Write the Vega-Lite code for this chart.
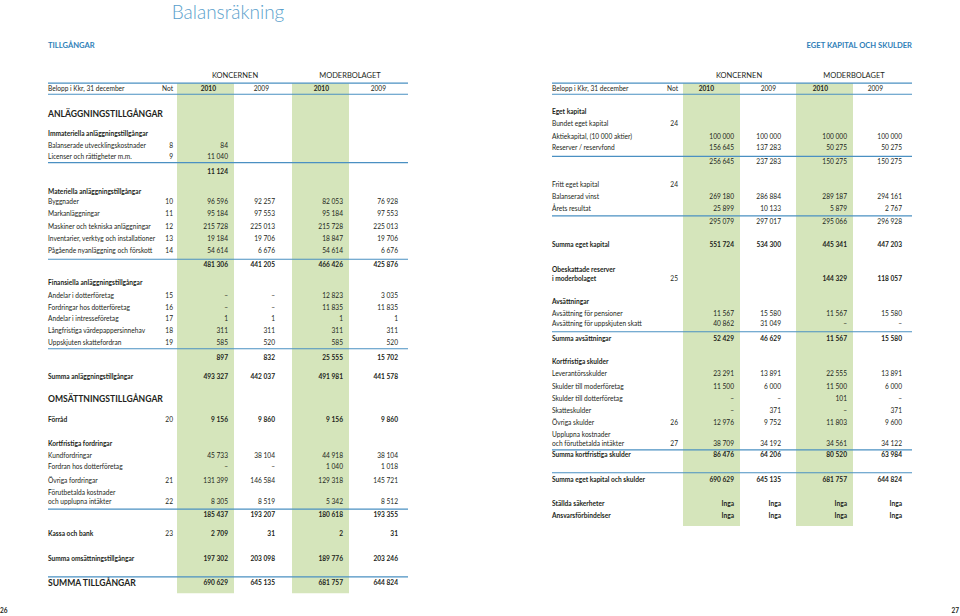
{
"$schema": "https://vega.github.io/schema/vega-lite/v6.json",
"width": 960, "height": 616, "padding": 0,
"autosize": {"type": "fit", "contains": "padding"},
"background": "white",
"config": {"view": {"stroke": null}, "text": {"font": "Lato", "color": "#231f20", "baseline": "middle"}},
"datasets": {
"bands": [
{"c": 2, "top": -0.5, "bottom": 43.1}, {"c": 4, "top": -0.5, "bottom": 43.1},
{"c": 12, "top": -0.5, "bottom": 37.35}, {"c": 14, "top": -0.5, "bottom": 37.35}
],
"lines": [
{"c0": 0, "c1": 6, "row": -0.5}, {"c0": 0, "c1": 6, "row": 0.45}, {"c0": 0, "c1": 6, "row": 6.3}, {"c0": 0, "c1": 6, "row": 14.55},
{"c0": 0, "c1": 6, "row": 22.2}, {"c0": 0, "c1": 6, "row": 35.9}, {"c0": 0, "c1": 6, "row": 41.7},
{"c0": 10, "c1": 16, "row": -0.5}, {"c0": 10, "c1": 16, "row": 0.45}, {"c0": 10, "c1": 16, "row": 5.75}, {"c0": 10, "c1": 16, "row": 10.85},
{"c0": 10, "c1": 16, "row": 20.75}, {"c0": 10, "c1": 16, "row": 30.85}, {"c0": 10, "c1": 16, "row": 32.8}
],
"parts": [
{"side": "L", "c": 0, "row": -3.7, "text": "TILLGÅNGAR"},
{"side": "R", "c": 16, "row": -3.7, "text": "EGET KAPITAL OCH SKULDER"}
],
"pages": [
{"side": "L", "c": -1, "row": 44.6, "text": "26"},
{"side": "R", "c": 17, "row": 44.6, "text": "27"}
],
"rows": [
{"side": "L", "row": -1.1, "kind": "group", "k10": "KONCERNEN", "m10": "MODERBOLAGET"},
{"side": "L", "row": 0, "kind": "colhead", "label": "Belopp i Kkr, 31 december", "note": "Not", "k10": "2010", "k09": "2009", "m10": "2010", "m09": "2009"},
{"side": "L", "row": 2.15, "kind": "section", "label": "ANLÄGGNINGSTILLGÅNGAR"},
{"side": "L", "row": 3.85, "kind": "head", "label": "Immateriella anläggningstillgångar"},
{"side": "L", "row": 4.85, "kind": "item", "label": "Balanserade utvecklingskostnader", "note": "8", "k10": "84"},
{"side": "L", "row": 5.8, "kind": "item", "label": "Licenser och rättigheter m.m.", "note": "9", "k10": "11 040"},
{"side": "L", "row": 7.12, "kind": "total", "k10": "11 124"},
{"side": "L", "row": 8.8, "kind": "head", "label": "Materiella anläggningstillgångar"},
{"side": "L", "row": 9.65, "kind": "item", "label": "Byggnader", "note": "10", "k10": "96 596", "k09": "92 257", "m10": "82 053", "m09": "76 928"},
{"side": "L", "row": 10.7, "kind": "item", "label": "Markanläggningar", "note": "11", "k10": "95 184", "k09": "97 553", "m10": "95 184", "m09": "97 553"},
{"side": "L", "row": 11.8, "kind": "item", "label": "Maskiner och tekniska anläggningar", "note": "12", "k10": "215 728", "k09": "225 013", "m10": "215 728", "m09": "225 013"},
{"side": "L", "row": 12.8, "kind": "item", "label": "Inventarier, verktyg och installationer", "note": "13", "k10": "19 184", "k09": "19 706", "m10": "18 847", "m09": "19 706"},
{"side": "L", "row": 13.85, "kind": "item", "label": "Pågående nyanläggning och förskott", "note": "14", "k10": "54 614", "k09": "6 676", "m10": "54 614", "m09": "6 676"},
{"side": "L", "row": 15.04, "kind": "total", "k10": "481 306", "k09": "441 205", "m10": "466 426", "m09": "425 876"},
{"side": "L", "row": 16.6, "kind": "head", "label": "Finansiella anläggningstillgångar"},
{"side": "L", "row": 17.7, "kind": "item", "label": "Andelar i dotterföretag", "note": "15", "k10": "–", "k09": "–", "m10": "12 823", "m09": "3 035"},
{"side": "L", "row": 18.7, "kind": "item", "label": "Fordringar hos dotterföretag", "note": "16", "k10": "–", "k09": "–", "m10": "11 835", "m09": "11 835"},
{"side": "L", "row": 19.65, "kind": "item", "label": "Andelar i intresseföretag", "note": "17", "k10": "1", "k09": "1", "m10": "1", "m09": "1"},
{"side": "L", "row": 20.7, "kind": "item", "label": "Långfristiga värdepappersinnehav", "note": "18", "k10": "311", "k09": "311", "m10": "311", "m09": "311"},
{"side": "L", "row": 21.7, "kind": "item", "label": "Uppskjuten skattefordran", "note": "19", "k10": "585", "k09": "520", "m10": "585", "m09": "520"},
{"side": "L", "row": 23.02, "kind": "total", "k10": "897", "k09": "832", "m10": "25 555", "m09": "15 702"},
{"side": "L", "row": 24.6, "kind": "sum", "label": "Summa anläggningstillgångar", "k10": "493 327", "k09": "442 037", "m10": "491 981", "m09": "441 578"},
{"side": "L", "row": 26.5, "kind": "section", "label": "OMSÄTTNINGSTILLGÅNGAR"},
{"side": "L", "row": 28.3, "kind": "sum", "label": "Förråd", "note": "20", "k10": "9 156", "k09": "9 860", "m10": "9 156", "m09": "9 860"},
{"side": "L", "row": 30.35, "kind": "head", "label": "Kortfristiga fordringar"},
{"side": "L", "row": 31.35, "kind": "item", "label": "Kundfordringar", "k10": "45 733", "k09": "38 104", "m10": "44 918", "m09": "38 104"},
{"side": "L", "row": 32.3, "kind": "item", "label": "Fordran hos dotterföretag", "k10": "–", "k09": "–", "m10": "1 040", "m09": "1 018"},
{"side": "L", "row": 33.5, "kind": "item", "label": "Övriga fordringar", "note": "21", "k10": "131 399", "k09": "146 584", "m10": "129 318", "m09": "145 721"},
{"side": "L", "row": 34.5, "kind": "item", "label": "Förutbetalda kostnader"},
{"side": "L", "row": 35.3, "kind": "item", "label": "och upplupna intäkter", "note": "22", "k10": "8 305", "k09": "8 519", "m10": "5 342", "m09": "8 512"},
{"side": "L", "row": 36.38, "kind": "total", "k10": "185 437", "k09": "193 207", "m10": "180 618", "m09": "193 355"},
{"side": "L", "row": 38.05, "kind": "sum", "label": "Kassa och bank", "note": "23", "k10": "2 709", "k09": "31", "m10": "2", "m09": "31"},
{"side": "L", "row": 40.15, "kind": "sum", "label": "Summa omsättningstillgångar", "k10": "197 302", "k09": "203 098", "m10": "189 776", "m09": "203 246"},
{"side": "L", "row": 42.2, "kind": "section", "label": "SUMMA TILLGÅNGAR", "k10": "690 629", "k09": "645 135", "m10": "681 757", "m09": "644 824"},
{"side": "R", "row": -1.1, "kind": "group", "k10": "KONCERNEN", "m10": "MODERBOLAGET"},
{"side": "R", "row": 0, "kind": "colhead", "label": "Belopp i Kkr, 31 december", "note": "Not", "k10": "2010", "k09": "2009", "m10": "2010", "m09": "2009"},
{"side": "R", "row": 1.95, "kind": "head", "label": "Eget kapital"},
{"side": "R", "row": 3.0, "kind": "item", "label": "Bundet eget kapital", "note": "24"},
{"side": "R", "row": 4.1, "kind": "item", "label": "Aktiekapital, (10 000 aktier)", "k10": "100 000", "k09": "100 000", "m10": "100 000", "m09": "100 000"},
{"side": "R", "row": 5.05, "kind": "item", "label": "Reserver / reservfond", "k10": "156 645", "k09": "137 283", "m10": "50 275", "m09": "50 275"},
{"side": "R", "row": 6.27, "kind": "subtotal", "k10": "256 645", "k09": "237 283", "m10": "150 275", "m09": "150 275"},
{"side": "R", "row": 8.2, "kind": "item", "label": "Fritt eget kapital", "note": "24"},
{"side": "R", "row": 9.25, "kind": "item", "label": "Balanserad vinst", "k10": "269 180", "k09": "286 884", "m10": "289 187", "m09": "294 161"},
{"side": "R", "row": 10.25, "kind": "item", "label": "Årets resultat", "k10": "25 899", "k09": "10 133", "m10": "5 879", "m09": "2 767"},
{"side": "R", "row": 11.35, "kind": "subtotal", "k10": "295 079", "k09": "297 017", "m10": "295 066", "m09": "296 928"},
{"side": "R", "row": 13.35, "kind": "sum", "label": "Summa eget kapital", "k10": "551 724", "k09": "534 300", "m10": "445 341", "m09": "447 203"},
{"side": "R", "row": 15.45, "kind": "head", "label": "Obeskattade reserver"},
{"side": "R", "row": 16.25, "kind": "sum", "label": "i moderbolaget", "note": "25", "m10": "144 329", "m09": "118 057"},
{"side": "R", "row": 18.2, "kind": "head", "label": "Avsättningar"},
{"side": "R", "row": 19.25, "kind": "item", "label": "Avsättning för pensioner", "k10": "11 567", "k09": "15 580", "m10": "11 567", "m09": "15 580"},
{"side": "R", "row": 20.1, "kind": "item", "label": "Avsättning för uppskjuten skatt", "k10": "40 862", "k09": "31 049", "m10": "–", "m09": "–"},
{"side": "R", "row": 21.35, "kind": "sum", "label": "Summa avsättningar", "k10": "52 429", "k09": "46 629", "m10": "11 567", "m09": "15 580"},
{"side": "R", "row": 23.35, "kind": "head", "label": "Kortfristiga skulder"},
{"side": "R", "row": 24.35, "kind": "item", "label": "Leverantörsskulder", "k10": "23 291", "k09": "13 891", "m10": "22 555", "m09": "13 891"},
{"side": "R", "row": 25.45, "kind": "item", "label": "Skulder till moderföretag", "k10": "11 500", "k09": "6 000", "m10": "11 500", "m09": "6 000"},
{"side": "R", "row": 26.5, "kind": "item", "label": "Skulder till dotterföretag", "k10": "–", "k09": "–", "m10": "101", "m09": "–"},
{"side": "R", "row": 27.5, "kind": "item", "label": "Skatteskulder", "k10": "–", "k09": "371", "m10": "–", "m09": "371"},
{"side": "R", "row": 28.55, "kind": "item", "label": "Övriga skulder", "note": "26", "k10": "12 976", "k09": "9 752", "m10": "11 803", "m09": "9 600"},
{"side": "R", "row": 29.55, "kind": "item", "label": "Upplupna kostnader"},
{"side": "R", "row": 30.35, "kind": "item", "label": "och förutbetalda intäkter", "note": "27", "k10": "38 709", "k09": "34 192", "m10": "34 561", "m09": "34 122"},
{"side": "R", "row": 31.3, "kind": "sum", "label": "Summa kortfristiga skulder", "k10": "86 476", "k09": "64 206", "m10": "80 520", "m09": "63 984"},
{"side": "R", "row": 33.4, "kind": "sum", "label": "Summa eget kapital och skulder", "k10": "690 629", "k09": "645 135", "m10": "681 757", "m09": "644 824"},
{"side": "R", "row": 35.45, "kind": "sum", "label": "Ställda säkerheter", "k10": "Inga", "k09": "Inga", "m10": "Inga", "m09": "Inga"},
{"side": "R", "row": 36.5, "kind": "sum", "label": "Ansvarsförbindelser", "k10": "Inga", "k09": "Inga", "m10": "Inga", "m09": "Inga"}
]
},
"resolve": {"scale": {"x": "independent", "y": "independent"}},
"layer": [
{"data": {"name": "bands"}, "mark": {"type": "rect", "color": "#d5e5bb", "xOffset": -51, "x2Offset": 6},
 "encoding": {
  "x": {"field": "c", "type": "quantitative", "axis": null, "scale": {"type": "linear", "domain": [-1,0,1,2,3,4,5,6,10,11,12,13,14,15,16,17], "range": [0,48,173,228,275,343,398,408,552,678,734,781,847,902,912,959], "zero": false, "nice": false}},
  "x2": {"field": "c"},
  "y": {"field": "top", "type": "quantitative", "axis": null, "scale": {"domain": [-7.607, 45.043], "reverse": true, "zero": false, "nice": false}},
  "y2": {"field": "bottom"}}},
{"data": {"name": "lines"}, "mark": {"type": "rule", "color": "#4a90c2", "strokeWidth": 1.2},
 "encoding": {
  "x": {"field": "c0", "type": "quantitative", "axis": null, "scale": {"type": "linear", "domain": [-1,0,1,2,3,4,5,6,10,11,12,13,14,15,16,17], "range": [0,48,173,228,275,343,398,408,552,678,734,781,847,902,912,959], "zero": false, "nice": false}},
  "x2": {"field": "c1"},
  "y": {"field": "row", "type": "quantitative", "axis": null, "scale": {"domain": [-7.607, 45.043], "reverse": true, "zero": false, "nice": false}}}},
{"data": {"values": [{"title": "Balansräkning", "c": 2, "row": -5.98}]}, "mark": {"type": "text", "align": "center", "baseline": "alphabetic", "fontSize": 19, "fontWeight": 300, "color": "#5a9fcc"},
 "encoding": {
  "x": {"field": "c", "type": "quantitative", "axis": null, "scale": {"type": "linear", "domain": [-1,0,1,2,3,4,5,6,10,11,12,13,14,15,16,17], "range": [0,48,173,228,275,343,398,408,552,678,734,781,847,902,912,959], "zero": false, "nice": false}},
  "y": {"field": "row", "type": "quantitative", "axis": null, "scale": {"domain": [-7.607, 45.043], "reverse": true, "zero": false, "nice": false}},
  "text": {"field": "title", "type": "nominal"}}},
{"data": {"name": "parts"}, "mark": {"type": "text", "align": {"expr": "datum.side=='L'?'left':'right'"}, "fontSize": 7.6, "fontWeight": "bold", "color": "#2f80b8"},
 "encoding": {
  "x": {"field": "c", "type": "quantitative", "axis": null, "scale": {"type": "linear", "domain": [-1,0,1,2,3,4,5,6,10,11,12,13,14,15,16,17], "range": [0,48,173,228,275,343,398,408,552,678,734,781,847,902,912,959], "zero": false, "nice": false}},
  "y": {"field": "row", "type": "quantitative", "axis": null, "scale": {"domain": [-7.607, 45.043], "reverse": true, "zero": false, "nice": false}},
  "text": {"field": "text", "type": "nominal"}}},
{"data": {"name": "pages"}, "mark": {"type": "text", "align": {"expr": "datum.side=='L'?'left':'right'"}, "fontSize": 6.5, "fontWeight": "bold"},
 "encoding": {
  "x": {"field": "c", "type": "quantitative", "axis": null, "scale": {"type": "linear", "domain": [-1,0,1,2,3,4,5,6,10,11,12,13,14,15,16,17], "range": [0,48,173,228,275,343,398,408,552,678,734,781,847,902,912,959], "zero": false, "nice": false}},
  "y": {"field": "row", "type": "quantitative", "axis": null, "scale": {"domain": [-7.607, 45.043], "reverse": true, "zero": false, "nice": false}},
  "text": {"field": "text", "type": "nominal"}}},
{"data": {"name": "rows"}, "transform": [{"filter": "datum.side=='L' && isValid(datum.label)"}],
 "mark": {"type": "text", "align": "left", "fontSize": {"expr": "datum.kind=='section'?8.6:6.6"}, "fontWeight": {"expr": "(datum.kind=='head'||datum.kind=='sum'||datum.kind=='section')?'bold':'normal'"}},
 "encoding": {
  "x": {"datum": 0, "type": "quantitative", "axis": null, "scale": {"type": "linear", "domain": [-1,0,1,2,3,4,5,6,10,11,12,13,14,15,16,17], "range": [0,48,173,228,275,343,398,408,552,678,734,781,847,902,912,959], "zero": false, "nice": false}},
  "y": {"field": "row", "type": "quantitative", "axis": null, "scale": {"domain": [-7.607, 45.043], "reverse": true, "zero": false, "nice": false}},
  "text": {"field": "label", "type": "nominal"}}},
{"data": {"name": "rows"}, "transform": [{"filter": "datum.side=='L' && isValid(datum.note)"}],
 "mark": {"type": "text", "align": "right", "fontSize": 6.6},
 "encoding": {
  "x": {"datum": 1, "type": "quantitative", "axis": null, "scale": {"type": "linear", "domain": [-1,0,1,2,3,4,5,6,10,11,12,13,14,15,16,17], "range": [0,48,173,228,275,343,398,408,552,678,734,781,847,902,912,959], "zero": false, "nice": false}},
  "y": {"field": "row", "type": "quantitative", "axis": null, "scale": {"domain": [-7.607, 45.043], "reverse": true, "zero": false, "nice": false}},
  "text": {"field": "note", "type": "nominal"}}},
{"data": {"name": "rows"}, "transform": [{"filter": "datum.side=='L' && isValid(datum.k10)"}],
 "mark": {"type": "text", "align": {"expr": "datum.kind=='group'?'center':'right'"}, "dx": {"expr": "datum.kind=='group'?7:(datum.kind=='colhead'?-12:0)"}, "fontSize": {"expr": "datum.kind=='group'?7.5:6.6"}, "fontWeight": {"expr": "(datum.kind=='total'||datum.kind=='sum'||datum.kind=='section'||datum.kind=='colhead')?'bold':'normal'"}},
 "encoding": {
  "x": {"datum": 2, "type": "quantitative", "axis": null, "scale": {"type": "linear", "domain": [-1,0,1,2,3,4,5,6,10,11,12,13,14,15,16,17], "range": [0,48,173,228,275,343,398,408,552,678,734,781,847,902,912,959], "zero": false, "nice": false}},
  "y": {"field": "row", "type": "quantitative", "axis": null, "scale": {"domain": [-7.607, 45.043], "reverse": true, "zero": false, "nice": false}},
  "text": {"field": "k10", "type": "nominal"}}},
{"data": {"name": "rows"}, "transform": [{"filter": "datum.side=='L' && isValid(datum.k09)"}],
 "mark": {"type": "text", "align": "right", "dx": {"expr": "datum.kind=='colhead'?-6:0"}, "fontSize": 6.6, "fontWeight": {"expr": "(datum.kind=='total'||datum.kind=='sum'||datum.kind=='section')?'bold':'normal'"}},
 "encoding": {
  "x": {"datum": 3, "type": "quantitative", "axis": null, "scale": {"type": "linear", "domain": [-1,0,1,2,3,4,5,6,10,11,12,13,14,15,16,17], "range": [0,48,173,228,275,343,398,408,552,678,734,781,847,902,912,959], "zero": false, "nice": false}},
  "y": {"field": "row", "type": "quantitative", "axis": null, "scale": {"domain": [-7.607, 45.043], "reverse": true, "zero": false, "nice": false}},
  "text": {"field": "k09", "type": "nominal"}}},
{"data": {"name": "rows"}, "transform": [{"filter": "datum.side=='L' && isValid(datum.m10)"}],
 "mark": {"type": "text", "align": {"expr": "datum.kind=='group'?'center':'right'"}, "dx": {"expr": "datum.kind=='group'?7:(datum.kind=='colhead'?-14:0)"}, "fontSize": {"expr": "datum.kind=='group'?7.5:6.6"}, "fontWeight": {"expr": "(datum.kind=='total'||datum.kind=='sum'||datum.kind=='section'||datum.kind=='colhead')?'bold':'normal'"}},
 "encoding": {
  "x": {"datum": 4, "type": "quantitative", "axis": null, "scale": {"type": "linear", "domain": [-1,0,1,2,3,4,5,6,10,11,12,13,14,15,16,17], "range": [0,48,173,228,275,343,398,408,552,678,734,781,847,902,912,959], "zero": false, "nice": false}},
  "y": {"field": "row", "type": "quantitative", "axis": null, "scale": {"domain": [-7.607, 45.043], "reverse": true, "zero": false, "nice": false}},
  "text": {"field": "m10", "type": "nominal"}}},
{"data": {"name": "rows"}, "transform": [{"filter": "datum.side=='L' && isValid(datum.m09)"}],
 "mark": {"type": "text", "align": "right", "dx": {"expr": "datum.kind=='colhead'?-12:0"}, "fontSize": 6.6, "fontWeight": {"expr": "(datum.kind=='total'||datum.kind=='sum'||datum.kind=='section')?'bold':'normal'"}},
 "encoding": {
  "x": {"datum": 5, "type": "quantitative", "axis": null, "scale": {"type": "linear", "domain": [-1,0,1,2,3,4,5,6,10,11,12,13,14,15,16,17], "range": [0,48,173,228,275,343,398,408,552,678,734,781,847,902,912,959], "zero": false, "nice": false}},
  "y": {"field": "row", "type": "quantitative", "axis": null, "scale": {"domain": [-7.607, 45.043], "reverse": true, "zero": false, "nice": false}},
  "text": {"field": "m09", "type": "nominal"}}},
{"data": {"name": "rows"}, "transform": [{"filter": "datum.side=='R' && isValid(datum.label)"}],
 "mark": {"type": "text", "align": "left", "fontSize": 6.6, "fontWeight": {"expr": "(datum.kind=='head'||datum.kind=='sum')?'bold':'normal'"}},
 "encoding": {
  "x": {"datum": 10, "type": "quantitative", "axis": null, "scale": {"type": "linear", "domain": [-1,0,1,2,3,4,5,6,10,11,12,13,14,15,16,17], "range": [0,48,173,228,275,343,398,408,552,678,734,781,847,902,912,959], "zero": false, "nice": false}},
  "y": {"field": "row", "type": "quantitative", "axis": null, "scale": {"domain": [-7.607, 45.043], "reverse": true, "zero": false, "nice": false}},
  "text": {"field": "label", "type": "nominal"}}},
{"data": {"name": "rows"}, "transform": [{"filter": "datum.side=='R' && isValid(datum.note)"}],
 "mark": {"type": "text", "align": "right", "fontSize": 6.6},
 "encoding": {
  "x": {"datum": 11, "type": "quantitative", "axis": null, "scale": {"type": "linear", "domain": [-1,0,1,2,3,4,5,6,10,11,12,13,14,15,16,17], "range": [0,48,173,228,275,343,398,408,552,678,734,781,847,902,912,959], "zero": false, "nice": false}},
  "y": {"field": "row", "type": "quantitative", "axis": null, "scale": {"domain": [-7.607, 45.043], "reverse": true, "zero": false, "nice": false}},
  "text": {"field": "note", "type": "nominal"}}},
{"data": {"name": "rows"}, "transform": [{"filter": "datum.side=='R' && isValid(datum.k10)"}],
 "mark": {"type": "text", "align": {"expr": "datum.kind=='group'?'center':'right'"}, "dx": {"expr": "datum.kind=='group'?5:(datum.kind=='colhead'?-20:0)"}, "fontSize": {"expr": "datum.kind=='group'?7.5:6.6"}, "fontWeight": {"expr": "(datum.kind=='sum'||datum.kind=='colhead')?'bold':'normal'"}},
 "encoding": {
  "x": {"datum": 12, "type": "quantitative", "axis": null, "scale": {"type": "linear", "domain": [-1,0,1,2,3,4,5,6,10,11,12,13,14,15,16,17], "range": [0,48,173,228,275,343,398,408,552,678,734,781,847,902,912,959], "zero": false, "nice": false}},
  "y": {"field": "row", "type": "quantitative", "axis": null, "scale": {"domain": [-7.607, 45.043], "reverse": true, "zero": false, "nice": false}},
  "text": {"field": "k10", "type": "nominal"}}},
{"data": {"name": "rows"}, "transform": [{"filter": "datum.side=='R' && isValid(datum.k09)"}],
 "mark": {"type": "text", "align": "right", "dx": {"expr": "datum.kind=='colhead'?-5:0"}, "fontSize": 6.6, "fontWeight": {"expr": "datum.kind=='sum'?'bold':'normal'"}},
 "encoding": {
  "x": {"datum": 13, "type": "quantitative", "axis": null, "scale": {"type": "linear", "domain": [-1,0,1,2,3,4,5,6,10,11,12,13,14,15,16,17], "range": [0,48,173,228,275,343,398,408,552,678,734,781,847,902,912,959], "zero": false, "nice": false}},
  "y": {"field": "row", "type": "quantitative", "axis": null, "scale": {"domain": [-7.607, 45.043], "reverse": true, "zero": false, "nice": false}},
  "text": {"field": "k09", "type": "nominal"}}},
{"data": {"name": "rows"}, "transform": [{"filter": "datum.side=='R' && isValid(datum.m10)"}],
 "mark": {"type": "text", "align": {"expr": "datum.kind=='group'?'center':'right'"}, "dx": {"expr": "datum.kind=='group'?7:(datum.kind=='colhead'?-19:0)"}, "fontSize": {"expr": "datum.kind=='group'?7.5:6.6"}, "fontWeight": {"expr": "(datum.kind=='sum'||datum.kind=='colhead')?'bold':'normal'"}},
 "encoding": {
  "x": {"datum": 14, "type": "quantitative", "axis": null, "scale": {"type": "linear", "domain": [-1,0,1,2,3,4,5,6,10,11,12,13,14,15,16,17], "range": [0,48,173,228,275,343,398,408,552,678,734,781,847,902,912,959], "zero": false, "nice": false}},
  "y": {"field": "row", "type": "quantitative", "axis": null, "scale": {"domain": [-7.607, 45.043], "reverse": true, "zero": false, "nice": false}},
  "text": {"field": "m10", "type": "nominal"}}},
{"data": {"name": "rows"}, "transform": [{"filter": "datum.side=='R' && isValid(datum.m09)"}],
 "mark": {"type": "text", "align": "right", "dx": {"expr": "datum.kind=='colhead'?-19:0"}, "fontSize": 6.6, "fontWeight": {"expr": "datum.kind=='sum'?'bold':'normal'"}},
 "encoding": {
  "x": {"datum": 15, "type": "quantitative", "axis": null, "scale": {"type": "linear", "domain": [-1,0,1,2,3,4,5,6,10,11,12,13,14,15,16,17], "range": [0,48,173,228,275,343,398,408,552,678,734,781,847,902,912,959], "zero": false, "nice": false}},
  "y": {"field": "row", "type": "quantitative", "axis": null, "scale": {"domain": [-7.607, 45.043], "reverse": true, "zero": false, "nice": false}},
  "text": {"field": "m09", "type": "nominal"}}}
]
}
